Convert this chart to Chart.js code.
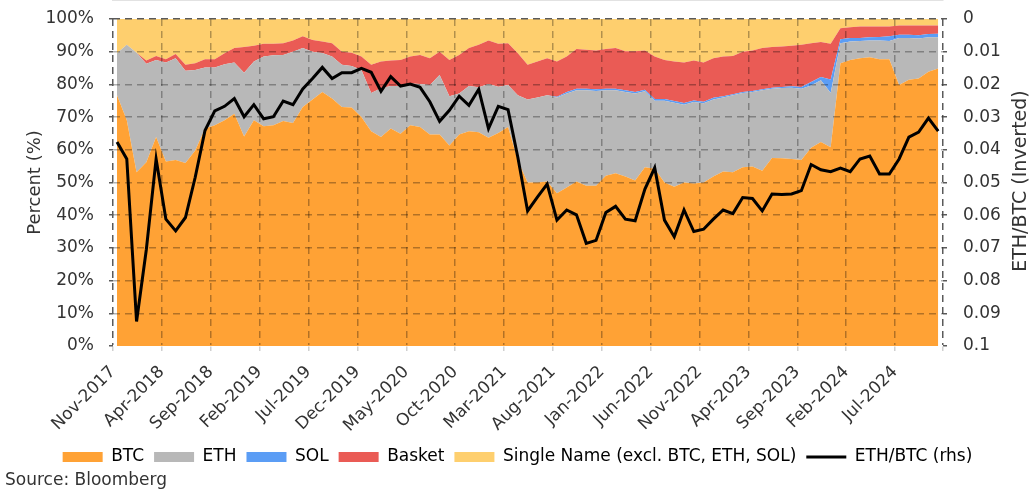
<!DOCTYPE html>
<html>
<head>
<meta charset="utf-8">
<script src="https://cdn.jsdelivr.net/npm/chart.js@4.4.1/dist/chart.umd.min.js"></script>
<style>
  html, body { margin: 0; padding: 0; background: #fff; }
</style>
</head>
<body>
<canvas id="chart" width="1035" height="491"></canvas>
<script>
// x axis labels, one every 5 months starting Nov-2017
const xTickLabels = ['Nov-2017','Apr-2018','Sep-2018','Feb-2019','Jul-2019','Dec-2019','May-2020','Oct-2020',
  'Mar-2021','Aug-2021','Jan-2022','Jun-2022','Nov-2022','Apr-2023','Sep-2023','Feb-2024','Jul-2024'];

// monthly shares (%) Nov-2017 .. Nov-2024
const btc = [76.7,69,53.1,56.2,63.9,56.4,56.9,56,59.8,66.5,
  67.5,69,71,64.1,69,67.2,67.5,68.8,68.2,73.1,
  75.4,77.7,75.7,73.1,72.9,70,65.7,63.9,66.5,64.9,
  67.5,67,64.7,64.7,61.3,64.7,65.7,65.4,63.7,65.1,
  67,56.7,50,50,50.3,46.7,48.5,50.3,49,49,
  52.1,52.8,51.8,50.6,54.7,54.2,50,48.7,50,49.7,
  50,51.8,53.4,53.1,54.7,54.9,53.6,57.5,57.4,57.2,
  56.9,60.6,62.4,60.8,86.5,87.5,88,88.3,87.7,87.7,
  79.8,81.4,81.8,83.9,84.9];
const eth = [12.8,23.1,36.6,30.1,23.6,30.3,31.1,28.2,24.6,18.7,
  17.7,17.2,15.7,19.5,18,21.3,21.4,20.2,21.8,18,
  14.6,11.9,12.8,12.9,12.7,14.4,11.7,14.9,13,14.6,
  12.8,13.1,15.1,18.2,15.1,12.5,13.8,13.7,16.4,14.2,
  12.8,20,25.4,26,26.4,29.3,28.7,27.9,29.2,29,
  26.1,25.4,25.9,26.6,23.2,20.8,25,25.7,23.8,24.9,
  24.2,23.6,22.6,23.6,22.7,22.8,24.6,21.2,21.5,21.8,
  21.8,19.1,18.9,16.6,6.1,5.6,5.3,5.1,5.7,5.6,
  14.4,12.8,12.2,10.5,9.5];
const sol = [0,0,0,0,0,0,0,0,0,0,
  0,0,0,0,0,0,0,0,0,0,
  0,0,0,0,0,0,0,0,0,0,
  0,0,0,0,0,0,0,0,0,0,
  0,0,0,0,0,0.2,0.5,0.5,0.5,0.5,
  0.5,0.5,0.5,0.5,0.5,0.5,0.5,0.5,0.5,0.5,
  0.5,0.5,0.4,0.3,0.3,0.3,0.3,0.3,0.3,0.4,
  0.5,1.0,1.0,4.1,1.2,1.1,0.9,1.0,1.1,1.4,
  1.0,1.0,1.0,1.0,1.1];
const basket = [0,0,0,1.0,1.2,1.0,1.3,1.8,2.1,2.5,
  2.5,3.3,4.4,7.8,4.8,3.9,3.5,3.6,3.4,3.6,
  3.6,3.5,4.1,4.0,4.1,4.1,8.6,8.2,7.8,8.0,
  8.2,8.9,8.2,7.1,11.1,11.8,11.6,13.0,13.3,13.1,
  12.8,12.8,10.6,11.0,11.3,10.8,10.8,12.1,11.9,11.9,
  12.1,12.4,11.9,12.4,12.0,13.0,12.0,12.1,12.4,12.2,
  12.0,12.1,12.1,11.7,12.3,12.4,12.6,12.4,12.4,12.4,
  12.9,11.9,10.7,10.9,3.4,3.3,3.5,3.3,3.2,3.0,
  2.8,2.8,3.0,2.6,2.5];
const singleName = [10.5,7.9,10.3,12.7,11.3,12.3,10.7,14,13.5,12.3,
  12.3,10.5,8.9,8.6,8.2,7.6,7.6,7.4,6.6,5.3,
  6.4,6.9,7.4,10,10.3,11.5,14,13,12.7,12.5,
  11.5,11,12,10,12.5,11,8.9,7.9,6.6,7.6,
  7.4,10.5,14,13,12,13,11.5,9.2,9.4,9.6,
  9.2,8.9,9.9,9.9,9.6,11.5,12.5,13,13.3,12.7,
  13.3,12,11.5,11.3,10,9.6,8.9,8.6,8.4,8.2,
  7.9,7.4,7,7.6,2.8,2.5,2.3,2.3,2.3,2.3,
  2,2,2,2,2];
// ETH/BTC ratio, right axis (inverted)
const ethBtc = [0.0376,0.0428,0.0925,0.0705,0.0428,0.0612,0.0648,0.0607,0.0484,0.0341,
  0.0281,0.0267,0.0243,0.0299,0.0262,0.0305,0.0299,0.0251,0.0262,0.0214,
  0.0182,0.0148,0.0182,0.0164,0.0164,0.0151,0.0163,0.0221,0.0176,0.0205,
  0.0199,0.0209,0.0253,0.0313,0.0279,0.0236,0.0264,0.0215,0.0335,0.0267,
  0.0277,0.0423,0.0587,0.0545,0.0505,0.0615,0.0584,0.0599,0.0686,0.0677,
  0.0592,0.0573,0.0612,0.0617,0.052,0.0455,0.0615,0.0666,0.0584,0.065,
  0.0643,0.0612,0.0584,0.0595,0.0546,0.0549,0.0587,0.0535,0.0537,0.0535,
  0.0525,0.0445,0.0461,0.0467,0.0456,0.0467,0.0428,0.0419,0.0474,0.0474,
  0.0428,0.0361,0.0346,0.0303,0.0343];

const X_OFFSET = 0.41;   // data sits a bit after the month tick
const X_MAX = 84.9;
const toXY = arr => arr.map((v, i) => ({ x: i + X_OFFSET, y: v }));

Chart.defaults.font.family = '"DejaVu Sans", sans-serif';
Chart.defaults.color = '#333';

const gridDark = '#5a5a5a';
const gridSoft = 'rgba(0,0,0,0.3)';

const area = (label, arr, color, fill) => ({
  label, data: toXY(arr), backgroundColor: color, borderColor: color,
  borderWidth: 0, pointRadius: 0, fill, yAxisID: 'y', order: 0
});

const extraText = {
  id: 'extraText',
  afterDraw(chart) {
    const ctx = chart.ctx;
    ctx.save();
    ctx.fillStyle = '#333';
    ctx.font = '17px "DejaVu Sans"';
    ctx.textBaseline = 'middle';
    ctx.textAlign = 'left';
    ctx.fillText('Source: Bloomberg', 5, 481);
    ctx.translate(1021, 181);
    ctx.rotate(-Math.PI / 2);
    ctx.textAlign = 'center';
    ctx.font = '19px "DejaVu Sans"';
    ctx.fillText('ETH/BTC (Inverted)', 0, 0);
    ctx.restore();
  }
};

// fixed axis sizes so the plot area lands where the reference has it
const fixWidth = w => s => { s.width = w; s.paddingTop = 0; s.paddingBottom = 0; };

new Chart(document.getElementById('chart'), {
  type: 'line',
  data: {
    datasets: [
      area('BTC', btc, '#FFA235', 'origin'),
      area('ETH', eth, '#B8B8B8', '-1'),
      area('SOL', sol, '#5B9DF5', '-1'),
      area('Basket', basket, '#EA5B55', '-1'),
      area('Single Name (excl. BTC, ETH, SOL)', singleName, '#FECF6E', '-1'),
      {
        label: 'ETH/BTC (rhs)', data: toXY(ethBtc), borderColor: '#000', backgroundColor: '#000',
        borderWidth: 3, pointRadius: 0, fill: false, yAxisID: 'y1', order: -1
      }
    ]
  },
  options: {
    responsive: false,
    animation: false,
    events: [],
    elements: { line: { tension: 0 } },
    layout: { padding: { top: 19, right: 0, bottom: 15.5, left: 0 } },
    plugins: {
      tooltip: { enabled: false },
      legend: {
        position: 'bottom',
        labels: {
          usePointStyle: true, pointStyleWidth: 40, boxHeight: 10, padding: 10,
          font: { size: 17 }, color: '#333',
          generateLabels: chart => chart.data.datasets.map((ds, i) => ({
            text: ds.label, datasetIndex: i, hidden: false,
            fillStyle: ds.backgroundColor, strokeStyle: ds.borderColor,
            lineWidth: ds.fill === false ? 3 : 0,
            pointStyle: ds.fill === false ? 'line' : 'rect'
          }))
        }
      }
    },
    scales: {
      x: {
        type: 'linear', min: 0, max: X_MAX,
        afterBuildTicks: s => {
          s.ticks = xTickLabels.map((_, k) => ({ value: k * 5 })).concat([{ value: X_MAX }]);
        },
        afterFit: s => { s.height = 92.5; },
        ticks: {
          autoSkip: false, minRotation: 45, maxRotation: 45, padding: 11,
          font: { size: 17 }, color: '#333',
          callback: v => v === X_MAX ? '' : xTickLabels[Math.round(v / 5)]
        },
        grid: {
          z: 1, lineWidth: 1.5, tickLength: 5, tickColor: '#d0d0d0', tickBorderDash: [],
          color: c => (c.tick && (c.tick.value === 0 || c.tick.value === X_MAX)) ? gridDark : gridSoft
        },
        border: { display: true, color: '#d9d9d9', width: 1.5, dash: [7, 5] }
      },
      y: {
        stacked: true, min: 0, max: 100,
        afterFit: fixWidth(113),
        ticks: { stepSize: 10, padding: 15, font: { size: 17 }, color: '#333', callback: v => v + '%' },
        grid: {
          z: 1, lineWidth: 1.5, tickLength: 4, tickColor: gridDark, tickBorderDash: [],
          color: c => c.tick && c.tick.value === 100 ? gridDark : (c.tick && c.tick.value === 0 ? 'rgba(0,0,0,0)' : gridSoft)
        },
        border: { display: false, dash: [7, 5] },
        title: { display: true, text: 'Percent (%)', font: { size: 18 }, color: '#333', padding: { top: 25, bottom: 0 } }
      },
      y1: {
        position: 'right', reverse: true, min: 0, max: 0.1,
        afterFit: fixWidth(92),
        ticks: {
          stepSize: 0.01, padding: 16, font: { size: 17 }, color: '#333',
          callback: v => String(Math.round(v * 100) / 100)
        },
        grid: { drawOnChartArea: false, tickLength: 4, tickColor: gridDark, lineWidth: 1.5 },
        border: { display: false }
      }
    }
  },
  plugins: [extraText]
});
</script>
</body>
</html>
